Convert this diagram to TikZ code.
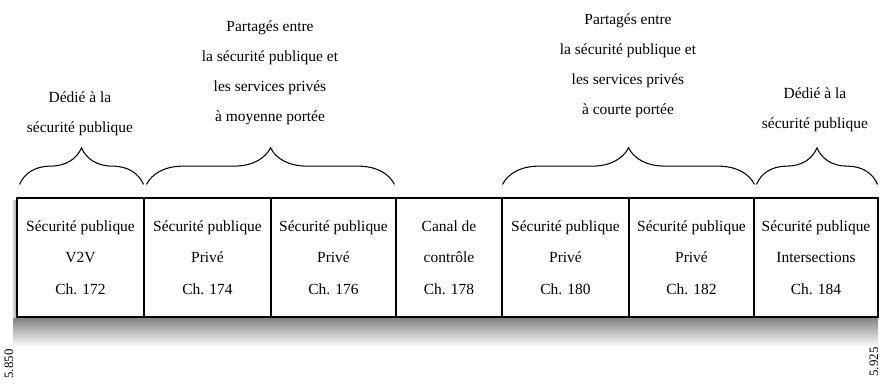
\documentclass[tikz,border=0pt]{standalone}
\usepackage{fontspec}
\setmainfont{Liberation Serif}
\usetikzlibrary{decorations.pathreplacing}
\tikzset{
  chan/.style={draw, line width=0.9pt, minimum height=3.57cm, inner sep=0pt,
    align=center, font=\rmfamily\fontsize{13.2}{27}\selectfont},
  lbl/.style={align=center, font=\rmfamily\fontsize{13.2}{25.5}\selectfont},
  freq/.style={rotate=90, font=\rmfamily\fontsize{11}{12}\selectfont},
  bracket/.style={decorate, decoration={brace, amplitude=1.1cm}, line width=0.9pt}
}
\begin{document}
\begin{tikzpicture}[x=0.03cm, y=-0.03cm]
        \useasboundingbox (0,0) rectangle (884,391);
        % shadow under the band
        \shade[top color=black!50, bottom color=white] (13,317) rectangle (878,347);
        \shade[left color=white, right color=black!40] (11,200) rectangle (17,317);
        % channels
        \node[chan, fill=white, minimum width=3.81cm] at (80.5,257.5) (c172) {Sécurité publique\\V2V\\Ch. 172};
        \node[chan, minimum width=3.81cm] at (207.5,257.5) (c174) {Sécurité publique\\Privé\\Ch. 174};
        \node[chan, minimum width=3.75cm] at (333.5,257.5) (c176) {Sécurité publique\\Privé\\Ch. 176};
        \node[chan, minimum width=3.18cm] at (449,257.5) (c178) {Canal de\\contrôle\\Ch. 178};
        \node[chan, minimum width=3.81cm] at (565.5,257.5) (c180) {Sécurité publique\\Privé\\Ch. 180};
        \node[chan, minimum width=3.75cm] at (691.5,257.5) (c182) {Sécurité publique\\Privé\\Ch. 182};
        \node[chan, minimum width=3.72cm] at (816,257.5) (c184) {Sécurité publique\\Intersections\\Ch. 184};
        % braces
        \draw[bracket] ([shift={(3,-13)}]c172.north west) to ([shift={(-1,-13)}]c172.north east);
        \draw[bracket] ([shift={(3,-13)}]c174.north west) to ([shift={(-2,-13)}]c176.north east);
        \draw[bracket] ([shift={(1,-13)}]c180.north west) to ([shift={(0,-13)}]c182.north east);
        \draw[bracket] ([shift={(3,-13)}]c184.north west) to ([shift={(-1,-13)}]c184.north east);
        % labels
        \node[lbl] at (80,114) (dedie1) {Dédié à la\\sécurité publique};
        \node[lbl] at (270,73) (moy) {Partagés entre\\la sécurité publique et\\les services privés\\à moyenne portée};
        \node[lbl] at (628,66) (court) {Partagés entre\\la sécurité publique et\\les services privés\\à courte portée};
        \node[lbl] at (815,110) (dedie2) {Dédié à la\\sécurité publique};
        % frequencies
        \node[freq] at (9,364) (f1) {5.850};
        \node[freq] at (874,362) (f2) {5.925};
      \end{tikzpicture}
\end{document}
